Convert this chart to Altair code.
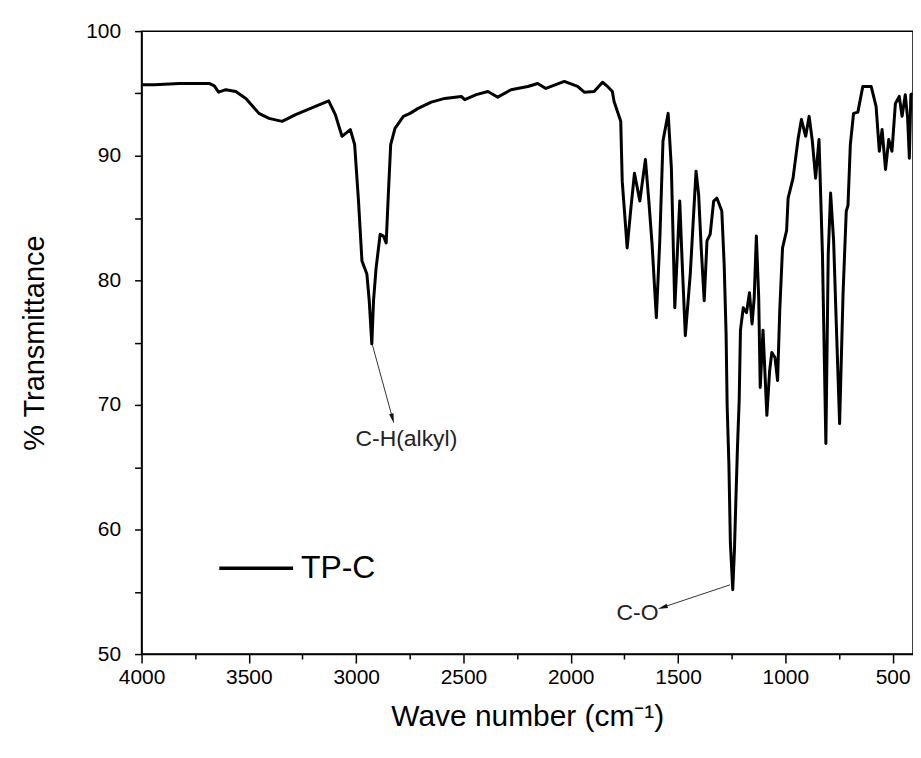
import altair as alt
import pandas as pd

# ---- spectrum ----
wavenumber = [3997, 3940, 3824, 3685, 3661, 3641, 3607, 3561, 3514, 3453, 3406, 3345, 3282, 3190,
              3128, 3097, 3066, 3027, 3007, 2989, 2973, 2950, 2939, 2927, 2919, 2907, 2888, 2873,
              2860, 2850, 2839, 2819, 2780, 2749, 2711, 2650, 2587, 2510, 2494, 2440, 2386, 2340,
              2293, 2278, 2200, 2154, 2116, 2030, 1968, 1937, 1891, 1852, 1825, 1806, 1798, 1767,
              1760, 1737, 1721, 1703, 1678, 1652, 1636, 1621, 1601, 1585, 1570, 1546, 1531, 1515,
              1492, 1481, 1466, 1443, 1430, 1416, 1404, 1392, 1378, 1365, 1350, 1334, 1319, 1296,
              1285, 1276, 1271, 1263, 1256, 1245, 1237, 1230, 1223, 1215, 1209, 1196, 1181, 1167,
              1155, 1145, 1135, 1124, 1117, 1104, 1086, 1073, 1063, 1048, 1036, 1026, 1013, 994,
              987, 964, 940, 925, 905, 889, 874, 859, 843, 827, 811, 800, 789, 775, 763, 747, 731,
              716, 708, 697, 682, 662, 639, 600, 577, 562, 549, 533, 518, 503, 487, 469, 456, 441,
              430, 422, 415, 408]
transmittance = [95.7, 95.7, 95.8, 95.8, 95.6, 95.1, 95.3, 95.16, 94.6, 93.4, 93.0, 92.76, 93.3, 93.96,
                 94.4, 93.3, 91.56, 92.1, 90.9, 86.36, 81.56, 80.5, 78.36, 74.9, 78.36, 81.0, 83.7, 83.56,
                 83.0, 86.9, 90.9, 92.2, 93.16, 93.4, 93.8, 94.3, 94.6, 94.76, 94.5, 94.9, 95.16, 94.7,
                 95.16, 95.3, 95.56, 95.8, 95.4, 95.96, 95.56, 95.1, 95.16, 95.9, 95.5, 95.16, 94.36, 92.76,
                 87.96, 82.6, 85.56, 88.6, 86.36, 89.7, 86.36, 82.9, 77.0, 83.2, 91.2, 93.4, 89.0, 77.8,
                 86.36, 81.56, 75.56, 80.5, 84.5, 88.76, 86.9, 82.6, 78.36, 83.16, 83.7, 86.36, 86.6, 85.56,
                 81.3, 75.7, 69.9, 65.3, 58.9, 55.16, 58.4, 62.6, 66.6, 70.36, 76.0, 77.8, 77.4, 79.0,
                 76.5, 78.6, 83.56, 78.6, 71.4, 76.0, 69.16, 72.76, 74.2, 73.8, 71.96, 77.56, 82.6, 84.0,
                 86.6, 88.2, 91.4, 92.9, 91.56, 93.16, 91.16, 88.2, 91.3, 82.1, 66.9, 82.1, 87.0, 83.2,
                 76.8, 68.5, 78.9, 85.56, 86.0, 90.9, 93.4, 93.5, 95.56, 95.56, 93.96, 90.36, 92.1, 88.9,
                 91.3, 90.36, 94.2, 94.76, 93.16, 94.9, 93.0, 89.8, 94.9, 95.0]
series_name = "TP-C"

# ---- annotations ----
ann_label = ["C-H(alkyl)", "C-O"]
ann_text_x = [2766, 1689]
ann_text_y = [67.3, 53.3]
ann_tail_x = [2924, 1257]
ann_tail_y = [74.8, 55.56]
ann_head_x = [2830, 1572]
ann_head_y = [68.9, 53.75]
ann_angle = [165, 252]

# ---- axis ticks ----
x_ticks = list(range(500, 4001, 250))
y_ticks = list(range(50, 101, 5))

assert len(wavenumber) == len(transmittance)

spec = pd.DataFrame({"wn": wavenumber, "T": transmittance, "series": series_name})
ann = pd.DataFrame({"label": ann_label, "tx": ann_text_x, "ty": ann_text_y,
                    "x0": ann_tail_x, "y0": ann_tail_y, "x1": ann_head_x, "y1": ann_head_y,
                    "ang": ann_angle})

FONT = "Liberation Sans"

xscale = alt.Scale(domain=[405, 4000], reverse=True, nice=False, zero=False)
yscale = alt.Scale(domain=[50, 100], nice=False, zero=False)

xaxis = alt.Axis(
    title="Wave number (cm\u207b\u00b9)", values=x_ticks,
    labelExpr="datum.value % 500 == 0 ? datum.label : ''",
    format="d",
    tickSize={"condition": {"test": "datum.value % 500 != 0", "value": 5}, "value": 9},
    labelPadding=4, labelFontSize=21, titleFontSize=30, titlePadding=14,
    labelFlush=False,
)
yaxis = alt.Axis(
    title="% Transmittance", values=y_ticks,
    labelExpr="datum.value % 10 == 0 ? datum.label : ''",
    tickSize=7, labelPadding=14, labelFontSize=21, titleFontSize=29, titlePadding=36,
)

line = alt.Chart(spec).mark_line(strokeWidth=3, strokeJoin="round").encode(
    x=alt.X("wn:Q", scale=xscale, axis=xaxis),
    y=alt.Y("T:Q", scale=yscale, axis=yaxis),
    color=alt.Color("series:N", scale=alt.Scale(range=["black"]),
                    legend=alt.Legend(title=None, orient="none", legendX=76, legendY=500,
                                      symbolType="stroke", symbolSize=5476,
                                      symbolStrokeWidth=3.5, labelFontSize=32,
                                      labelFont=FONT, labelColor="black",
                                      padding=0, labelOffset=6)),
)

arrows = alt.Chart(ann).mark_rule(strokeWidth=1, color="#333").encode(
    x="x0:Q", y="y0:Q", x2="x1:Q", y2="y1:Q")

heads = alt.Chart(ann).mark_point(
    shape="M0,-1L0.45,1L-0.45,1Z", filled=True, size=100, color="#111", opacity=1
).encode(x="x1:Q", y="y1:Q", angle=alt.Angle("ang:Q", scale=None))

texts = alt.Chart(ann).mark_text(font=FONT, fontSize=23, color="#222",
                                 align="center", baseline="middle").encode(
    x="tx:Q", y="ty:Q", text="label:N")

chart = alt.layer(line, arrows, heads, texts).properties(
    width=774, height=625,
    autosize=alt.AutoSizeParams(type="none"),
    padding={"left": 134, "top": 22, "right": 0, "bottom": 88},
).configure_view(
    stroke="black", strokeWidth=1.5
).configure_axis(
    grid=False, domainColor="black", domainWidth=1.5, tickColor="black", tickWidth=1.5,
    labelColor="black", titleColor="black", labelFont=FONT, titleFont=FONT,
    titleFontWeight="normal",
)

chart.save("out.html", embed_options={"renderer": "svg", "actions": False})
